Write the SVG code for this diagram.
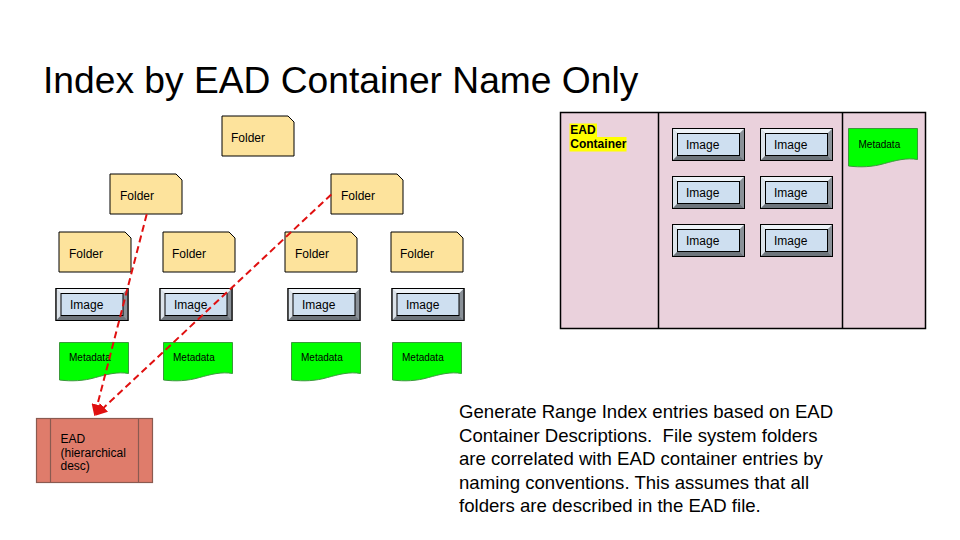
<svg xmlns="http://www.w3.org/2000/svg" xmlns:xlink="http://www.w3.org/1999/xlink" width="960" height="540" viewBox="0 0 960 540">
  <style>
    text { font-family: "Liberation Sans", Arial, sans-serif; fill: #000; }
    .lbl { font-size: 12px; }
    .meta { font-size: 10px; }
    .folder { fill: #FDE39C; stroke: #000; stroke-width: 1; }
    .doc { fill: #00FF00; stroke: #3A9A3A; stroke-width: 1; }
    .conn { fill: none; stroke: #E01010; stroke-width: 2; stroke-dasharray: 7 4; }
  </style>
  <defs>
    <g id="imgShape">
      <rect x="0" y="0" width="72" height="32" fill="#B8C0C8" stroke="#000" stroke-width="1"/>
      <polygon points="0.5,0.5 71.5,0.5 67,5 5,5" fill="#EEF3F8"/>
      <polygon points="0.5,0.5 5,5 5,27 0.5,31.5" fill="#DCE3EA"/>
      <polygon points="71.5,0.5 71.5,31.5 67,27 67,5" fill="#8A9198"/>
      <polygon points="0.5,31.5 71.5,31.5 67,27 5,27" fill="#6E757C"/>
      <rect x="0" y="0" width="72" height="32" fill="none" stroke="#000" stroke-width="1"/>
      <rect x="5" y="5" width="62" height="22" fill="#CEDFF0" stroke="#000" stroke-width="1"/>
    </g>
    <path id="folderShape" class="folder" d="M0,0 H66 L72,6 V40 H0 Z"/>
    <path id="docShape" class="doc" d="M0,0 H69 V31 C58,29 47,32 36,35 C24,38.5 12,39 0,37.5 Z"/>
    <marker id="arrow" viewBox="0 0 10 10" refX="8" refY="5" markerWidth="6" markerHeight="6" orient="auto" markerUnits="strokeWidth">
      <path d="M0,0 L10,5 L0,10 Z" fill="#E01010"/>
    </marker>
  </defs>

  <rect x="0" y="0" width="960" height="540" fill="#FFFFFF"/>

  <text x="43" y="93" style="font-size:37.2px">Index by EAD Container Name Only</text>

  <!-- Folder tree -->
  <g id="folder-top"><use xlink:href="#folderShape" x="222" y="116"/><text class="lbl" x="231" y="142">Folder</text></g>
  <g id="folder-l2a"><use xlink:href="#folderShape" x="110" y="174"/><text class="lbl" x="120" y="200">Folder</text></g>
  <g id="folder-l2b"><use xlink:href="#folderShape" x="331" y="174"/><text class="lbl" x="341" y="200">Folder</text></g>
  <g id="folder-l3a"><use xlink:href="#folderShape" x="59" y="232"/><text class="lbl" x="69" y="258">Folder</text></g>
  <g id="folder-l3b"><use xlink:href="#folderShape" x="163" y="232"/><text class="lbl" x="172" y="258">Folder</text></g>
  <g id="folder-l3c"><use xlink:href="#folderShape" x="285" y="232"/><text class="lbl" x="295" y="258">Folder</text></g>
  <g id="folder-l3d"><use xlink:href="#folderShape" x="391" y="232"/><text class="lbl" x="400" y="258">Folder</text></g>

  <!-- Images -->
  <g id="image-1"><use xlink:href="#imgShape" x="56" y="288.5"/><text class="lbl" x="70" y="309">Image</text></g>
  <g id="image-2"><use xlink:href="#imgShape" x="160" y="288.5"/><text class="lbl" x="174" y="309">Image</text></g>
  <g id="image-3"><use xlink:href="#imgShape" x="288" y="288.5"/><text class="lbl" x="302" y="309">Image</text></g>
  <g id="image-4"><use xlink:href="#imgShape" x="392" y="288.5"/><text class="lbl" x="406" y="309">Image</text></g>

  <!-- Metadata -->
  <g id="meta-1"><use xlink:href="#docShape" x="59.5" y="342.5"/><text class="meta" x="69" y="361">Metadata</text></g>
  <g id="meta-2"><use xlink:href="#docShape" x="163.5" y="342.5"/><text class="meta" x="173" y="361">Metadata</text></g>
  <g id="meta-3"><use xlink:href="#docShape" x="291.5" y="342.5"/><text class="meta" x="301" y="361">Metadata</text></g>
  <g id="meta-4"><use xlink:href="#docShape" x="392.5" y="342.5"/><text class="meta" x="402" y="361">Metadata</text></g>

  <!-- EAD -->
  <g id="ead">
    <rect x="36.5" y="418.5" width="116" height="64" fill="#DF7C6B" stroke="#8A5A50" stroke-width="1.2"/>
    <line x1="50.5" y1="418.5" x2="50.5" y2="482.5" stroke="#8A5A50" stroke-width="1.2"/>
    <line x1="138.5" y1="418.5" x2="138.5" y2="482.5" stroke="#8A5A50" stroke-width="1.2"/>
    <text class="lbl" x="60.5" y="443">EAD</text>
    <text class="lbl" x="60.5" y="456.5">(hierarchical</text>
    <text class="lbl" x="60.5" y="470">desc)</text>
  </g>

  <!-- Connectors -->
  <g id="connectors">
    <line class="conn" x1="146.7" y1="214.3" x2="95" y2="414" marker-end="url(#arrow)"/>
    <line class="conn" x1="331.3" y1="194.5" x2="97" y2="414" marker-end="url(#arrow)"/>
  </g>

  <!-- EAD container panel -->
  <g id="container-panel">
    <rect x="560.5" y="112.5" width="365" height="216" fill="#EAD1DC" stroke="#000" stroke-width="1.5"/>
    <line x1="658.5" y1="112.5" x2="658.5" y2="328.5" stroke="#000" stroke-width="1.5"/>
    <line x1="842.5" y1="112.5" x2="842.5" y2="328.5" stroke="#000" stroke-width="1.5"/>
    <rect x="569.5" y="123.5" width="27.5" height="13.5" fill="#FFFF00"/>
    <rect x="569.5" y="137" width="57" height="14.5" fill="#FFFF00"/>
    <text x="570.3" y="134" style="font-size:12px;font-weight:bold">EAD</text>
    <text x="570.3" y="147.7" style="font-size:12px;font-weight:bold">Container</text>
  </g>
  <g id="panel-image-1"><use xlink:href="#imgShape" x="672.5" y="128.5"/><text class="lbl" x="686" y="149">Image</text></g>
  <g id="panel-image-2"><use xlink:href="#imgShape" x="760.5" y="128.5"/><text class="lbl" x="774" y="149">Image</text></g>
  <g id="panel-image-3"><use xlink:href="#imgShape" x="672.5" y="176.5"/><text class="lbl" x="686" y="197">Image</text></g>
  <g id="panel-image-4"><use xlink:href="#imgShape" x="760.5" y="176.5"/><text class="lbl" x="774" y="197">Image</text></g>
  <g id="panel-image-5"><use xlink:href="#imgShape" x="672.5" y="224.5"/><text class="lbl" x="686" y="245">Image</text></g>
  <g id="panel-image-6"><use xlink:href="#imgShape" x="760.5" y="224.5"/><text class="lbl" x="774" y="245">Image</text></g>
  <g id="panel-meta"><use xlink:href="#docShape" x="848.5" y="128.5"/><text class="meta" x="858.5" y="148">Metadata</text></g>

  <!-- Description -->
  <g id="description" style="font-size:18.6px">
    <text x="459" y="418">Generate Range Index entries based on EAD</text>
    <text x="459" y="441.5" xml:space="preserve">Container Descriptions.&#160; File system folders</text>
    <text x="459" y="465">are correlated with EAD container entries by</text>
    <text x="459" y="488.5">naming conventions. This assumes that all</text>
    <text x="459" y="512">folders are described in the EAD file.</text>
  </g>
</svg>
